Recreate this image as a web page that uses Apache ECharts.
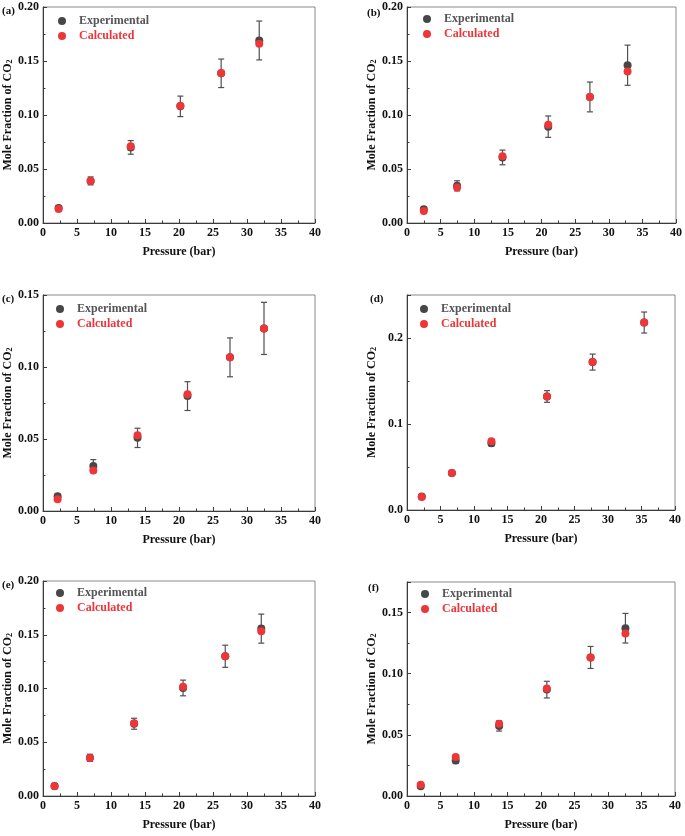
<!DOCTYPE html>
<html>
<head>
<meta charset="utf-8">
<script src="https://cdn.jsdelivr.net/npm/echarts@6/dist/echarts.min.js"></script>
<style>html,body{margin:0;padding:0;background:#fff}#c{width:685px;height:836px}</style>
</head>
<body>
<div id="c"></div>
<script>
// Panel (a)
const pA = [2.3, 7.0, 12.9, 20.2, 26.2, 31.8];
const expA = [0.014, 0.039, 0.070, 0.108, 0.1386, 0.169];
const calA = [0.013, 0.039, 0.071, 0.1085, 0.139, 0.166];
const errA = [0.002, 0.0037, 0.0063, 0.0095, 0.0132, 0.018];
// Panel (b)
const pB = [2.5, 7.45, 14.2, 21.0, 27.2, 32.8];
const expB = [0.0127, 0.0344, 0.0607, 0.0892, 0.1167, 0.1461];
const calB = [0.011, 0.0328, 0.0619, 0.091, 0.1167, 0.1402];
const errB = [0.0015, 0.0047, 0.0068, 0.0099, 0.0138, 0.0186];
// Panel (c)
const pC = [2.15, 7.4, 13.9, 21.25, 27.5, 32.5];
const expC = [0.0102, 0.0313, 0.0508, 0.0798, 0.1067, 0.1268];
const calC = [0.0081, 0.0281, 0.0526, 0.0811, 0.1067, 0.1268];
const errC = [0.0015, 0.0044, 0.0067, 0.0100, 0.0135, 0.0181];
// Panel (d)
const pD = [2.2, 6.7, 12.6, 20.9, 27.7, 35.4];
const expD = [0.0158, 0.043, 0.0775, 0.132, 0.172, 0.218];
const calD = [0.015, 0.043, 0.080, 0.132, 0.172, 0.218];
const errD = [0.002, 0.002, 0.003, 0.0068, 0.0093, 0.0122];
// Panel (e)
const pE = [1.7, 6.9, 13.4, 20.6, 26.8, 32.1];
const expE = [0.0092, 0.0355, 0.0672, 0.1005, 0.130, 0.1557];
const calE = [0.009, 0.0353, 0.0676, 0.1017, 0.130, 0.1532];
const errE = [0.0015, 0.0033, 0.0051, 0.0073, 0.0103, 0.0135];
// Panel (f)
const pF = [2.05, 7.27, 13.75, 20.87, 27.4, 32.6];
const expF = [0.0079, 0.0291, 0.0573, 0.087, 0.1133, 0.1372];
const calF = [0.0092, 0.0318, 0.059, 0.088, 0.1133, 0.1329];
const errF = [0.0015, 0.0025, 0.0042, 0.0068, 0.009, 0.0121];

const panelLabels = ['(a)', '(b)', '(c)', '(d)', '(e)', '(f)'];
const xTitle = 'Pressure (bar)';
const yTitle = 'Mole Fraction of CO{s|2}';
const legendNames = ['Experimental', 'Calculated'];

const panels = [
  {p: pA, e: expA, c: calA, err: errA, ymax: 0.2, yint: 0.05, dec: 2},
  {p: pB, e: expB, c: calB, err: errB, ymax: 0.2, yint: 0.05, dec: 2},
  {p: pC, e: expC, c: calC, err: errC, ymax: 0.15, yint: 0.05, dec: 2},
  {p: pD, e: expD, c: calD, err: errD, ymax: 0.25, yint: 0.1, dec: 1},
  {p: pE, e: expE, c: calE, err: errE, ymax: 0.2, yint: 0.05, dec: 2},
  {p: pF, e: expF, c: calF, err: errF, ymax: 0.175, yint: 0.05, dec: 2}
];

// layout
const grids = [
  {left: 43, top: 7, width: 272, height: 216},
  {left: 407, top: 7, width: 270, height: 216},
  {left: 43, top: 295, width: 272, height: 216},
  {left: 407, top: 295, width: 268, height: 215},
  {left: 43, top: 581, width: 272, height: 215},
  {left: 407, top: 582, width: 268, height: 214}
];
const legendPos = [
  {left: 58, top: 14}, {left: 423, top: 12},
  {left: 56, top: 302}, {left: 420, top: 302},
  {left: 56, top: 586}, {left: 421, top: 587}
];
const labelPos = [[8, 13], [373, 15], [8, 301], [376, 301], [8, 587], [374, 590]];

const FONT = '"Liberation Serif", "Times New Roman", serif';
const EXP_COLOR = '#474747';
const CAL_COLOR = '#ee3538';
const AXIS_COLOR = '#3a3a3a';

const option = {
  animation: false,
  backgroundColor: '#fff',
  grid: [], xAxis: [], yAxis: [], series: [], legend: [], graphic: []
};

panels.forEach((pn, i) => {
  option.grid.push(Object.assign({show: true, borderColor: '#8a8a8a', borderWidth: 1, backgroundColor: 'transparent'}, grids[i]));
  option.xAxis.push({
    gridIndex: i, type: 'value', min: 0, max: 40, interval: 5,
    name: xTitle, nameLocation: 'middle', nameGap: 23,
    nameTextStyle: {fontFamily: FONT, fontWeight: 'bold', fontSize: 12, color: '#111'},
    axisLine: {show: true, onZero: false, lineStyle: {color: AXIS_COLOR, width: 1}},
    axisTick: {show: true, inside: true, length: 4, lineStyle: {color: AXIS_COLOR}},
    minorTick: {show: true, splitNumber: 2, length: 2.5, lineStyle: {color: AXIS_COLOR}},
    axisLabel: {fontFamily: FONT, fontWeight: 'bold', fontSize: 12, color: '#111', margin: 4},
    splitLine: {show: false}
  });
  option.yAxis.push({
    gridIndex: i, type: 'value', min: 0, max: pn.ymax, interval: pn.yint,
    name: yTitle, nameLocation: 'middle', nameGap: 29,
    nameTextStyle: {fontFamily: FONT, fontWeight: 'bold', fontSize: 12, color: '#111',
      rich: {s: {fontFamily: FONT, fontWeight: 'bold', fontSize: 8, color: '#111', verticalAlign: 'bottom', lineHeight: 12, padding: [4, 0, 0, 0]}}},
    axisLine: {show: true, onZero: false, lineStyle: {color: AXIS_COLOR, width: 1}},
    axisTick: {show: true, inside: true, length: 4, lineStyle: {color: AXIS_COLOR}},
    minorTick: {show: true, splitNumber: 2, length: 2.5, lineStyle: {color: AXIS_COLOR}},
    axisLabel: {fontFamily: FONT, fontWeight: 'bold', fontSize: 12, color: '#111', margin: 4,
      showMaxLabel: Math.abs(pn.ymax / pn.yint - Math.round(pn.ymax / pn.yint)) < 1e-6,
      formatter: v => v.toFixed(pn.dec)},
    splitLine: {show: false}
  });
  // error bars
  option.series.push({
    type: 'custom', xAxisIndex: i, yAxisIndex: i, z: 1, silent: true,
    data: pn.p.map((x, k) => [x, pn.e[k], pn.err[k]]),
    renderItem: function (params, api) {
      const x = api.value(0), y = api.value(1), e = api.value(2);
      const top = api.coord([x, y + e]);
      const bot = api.coord([x, y - e]);
      const cw = 3;
      const st = {stroke: '#505050', lineWidth: 1.2};
      return {type: 'group', children: [
        {type: 'line', shape: {x1: top[0], y1: top[1], x2: bot[0], y2: bot[1]}, style: st},
        {type: 'line', shape: {x1: top[0] - cw, y1: top[1], x2: top[0] + cw, y2: top[1]}, style: st},
        {type: 'line', shape: {x1: bot[0] - cw, y1: bot[1], x2: bot[0] + cw, y2: bot[1]}, style: st}
      ]};
    }
  });
  option.series.push({
    name: legendNames[0], type: 'scatter', xAxisIndex: i, yAxisIndex: i, z: 2,
    symbol: 'circle', symbolSize: 8, itemStyle: {color: EXP_COLOR, opacity: 1},
    data: pn.p.map((x, k) => [x, pn.e[k]])
  });
  option.series.push({
    name: legendNames[1], type: 'scatter', xAxisIndex: i, yAxisIndex: i, z: 3,
    symbol: 'circle', symbolSize: 8, itemStyle: {color: CAL_COLOR, opacity: 1},
    data: pn.p.map((x, k) => [x, pn.c[k]])
  });
  option.legend.push({
    left: legendPos[i].left, top: legendPos[i].top, orient: 'vertical', padding: 0,
    itemWidth: 24, itemHeight: 8, itemGap: 1, icon: 'circle', selectedMode: false,
    textStyle: {fontFamily: FONT, fontWeight: 'bold', fontSize: 12, lineHeight: 14},
    data: [
      {name: legendNames[0], itemStyle: {color: EXP_COLOR, opacity: 1}, textStyle: {color: '#555'}},
      {name: legendNames[1], itemStyle: {color: CAL_COLOR, opacity: 1}, textStyle: {color: CAL_COLOR}}
    ]
  });
  option.graphic.push({
    type: 'text', left: labelPos[i][0] - 6, top: labelPos[i][1] - 7,
    style: {text: panelLabels[i], font: 'bold 11px ' + FONT, fill: '#111'}
  });
});

const chart = echarts.init(document.getElementById('c'), null, {renderer: 'canvas'});
chart.setOption(option);
</script>
</body>
</html>
